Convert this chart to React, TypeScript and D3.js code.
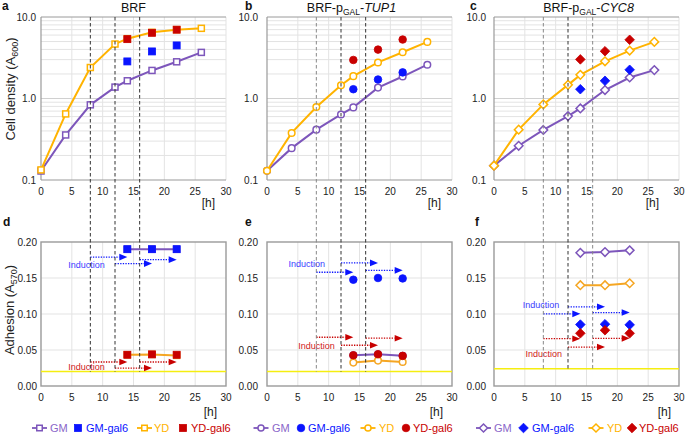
import React from 'react';
import * as d3 from 'd3';

// ---------- data ----------
const hours = [0, 4, 8, 12, 14, 18, 22, 26];
const galHours = [14, 18, 22];
const inductionStarts = [8, 12, 16];
const inductionLength = 6;
const xTicks = [0, 5, 10, 15, 20, 25, 30];
const densityTicks = [0.1, 1, 10];
const densityTickLabels = ['0.1', '1.0', '10.0'];
const adhesionTicks = [0, 0.05, 0.1, 0.15, 0.2];
const adhesionTickLabels = ['0.00', '0.05', '0.10', '0.15', '0.20'];

// growth (A600)
const aGM = [0.129, 0.357, 0.836, 1.38, 1.65, 2.21, 2.82, 3.68];
const aYD = [0.133, 0.647, 2.4, 4.66, 5.42, 6.48, 6.99, 7.26];
const aGMgal6 = [2.85, 3.78, 4.48];
const aYDgal6 = [5.35, 6.4, 6.99];

const bGM = [0.13, 0.246, 0.415, 0.637, 0.778, 1.36, 1.86, 2.6];
const bYD = [0.13, 0.378, 0.785, 1.455, 1.88, 2.77, 3.69, 4.95];
const bGMgal6 = [1.3, 1.71, 2.09];
const bYDgal6 = [2.97, 3.98, 5.29];

const cGM = [0.15, 0.263, 0.411, 0.608, 0.756, 1.27, 1.81, 2.23];
const cYD = [0.15, 0.415, 0.847, 1.47, 1.95, 2.86, 3.87, 4.95];
const cGMgal6 = [1.3, 1.65, 2.25];
const cYDgal6 = [3.02, 3.8, 5.25];

// adhesion (A570)
const dGM = [0.19, 0.19, 0.19];
const dYD = [0.0434, 0.0439, 0.0425];
const dGMgal6 = [0.19, 0.19, 0.19];
const dYDgal6 = [0.0434, 0.0439, 0.0434];

const eGM = [0.0427, 0.0441, 0.042];
const eYD = [0.0325, 0.0353, 0.0334];
const eGMgal6 = [0.1476, 0.15, 0.1494];
const eYDgal6 = [0.0427, 0.0441, 0.0418];

const fGM = [0.185, 0.186, 0.1884];
const fYD = [0.14, 0.14, 0.1427];
const fGMgal6 = [0.0853, 0.0858, 0.0849];
const fYDgal6 = [0.0732, 0.0774, 0.0732];

// induction arrows (y levels) and label anchors [x, y]
const dBlueArrows = [0.179, 0.17, 0.1755];
const dRedArrows = [0.0333, 0.0249, 0.0333];
const eBlueArrows = [0.158, 0.171, 0.1606];
const eRedArrows = [0.0677, 0.0566, 0.0664];
const fBlueArrows = [0.1002, 0.11, 0.102];
const fRedArrows = [0.0657, 0.0541, 0.0662];
const dLabels = [[4.4, 0.168], [4.4, 0.0266]];
const eLabels = [[3.5, 0.169], [5.05, 0.056]];
const fLabels = [[4.65, 0.113], [5.1, 0.0443]];
const baselines = [0.02, 0.02, 0.024];

const seriesNames = ['GM', 'GM-gal6', 'YD', 'YD-gal6'];

// ---------- style ----------
const FONT = 'Liberation Sans, Arial, sans-serif';
const PURPLE = '#7d56bb';
const ORANGE = '#ffb300';
const BLUE = '#0a14ff';
const RED = '#c80000';
const GRID = '#e3e3e3';
const FRAME = '#9a9a9a';
const PLOT_W = 185;
const LEFTS = [41, 267, 494];
const TOP_Y = [17, 180];
const BOT_Y = [242, 386];

type Shape = 'square' | 'circle' | 'diamond';

function Marker({ shape, x, y, color, hollow, size = 7 }: { shape: Shape; x: number; y: number; color: string; hollow: boolean; size?: number }) {
  const fill = hollow ? '#fff' : color;
  const sw = hollow ? 1.5 : 0.8;
  const s = hollow ? size - 1 : size;
  if (shape === 'square') {
    return <rect x={x - s / 2} y={y - s / 2} width={s} height={s} fill={fill} stroke={color} strokeWidth={sw} />;
  }
  if (shape === 'circle') {
    return <circle cx={x} cy={y} r={s / 2 + 0.3} fill={fill} stroke={color} strokeWidth={sw} />;
  }
  const r = s / 2 + 1.3;
  return <path d={`M${x},${y - r}L${x + r},${y}L${x},${y + r}L${x - r},${y}Z`} fill={fill} stroke={color} strokeWidth={sw} />;
}

function Series({ xs, ys, x, y, color, shape, hollow, line }: any) {
  const gen = d3.line<number>().x((_, i) => x(xs[i])).y((v) => y(v));
  return (
    <g>
      {line && <path d={gen(ys) || ''} fill="none" stroke={color} strokeWidth={2} />}
      {ys.map((v: number, i: number) => (
        <Marker key={i} shape={shape} x={x(xs[i])} y={y(v)} color={color} hollow={hollow} />
      ))}
    </g>
  );
}

function Title({ idx, cx }: { idx: number; cx: number }) {
  const common = { x: cx, y: 11.5, textAnchor: 'middle' as const, fontSize: 12.5, fontFamily: FONT, fill: '#111' };
  if (idx === 0) return <text {...common}>BRF</text>;
  const gene = idx === 1 ? 'TUP1' : 'CYC8';
  return (
    <text {...common}>
      BRF-p<tspan fontSize={8.5} dy={3}>GAL</tspan>
      <tspan dy={-3}>-</tspan>
      <tspan fontStyle="italic">{gene}</tspan>
    </text>
  );
}

function GrowthPanel({ idx, gm, yd, gmg, ydg, shape }: any) {
  const left = LEFTS[idx];
  const x = d3.scaleLinear().domain([0, 30]).range([left, left + PLOT_W]);
  const y = d3.scaleLog().domain([0.1, 10]).range([TOP_Y[1], TOP_Y[0]]);
  const minor: number[] = [];
  [0.1, 1].forEach((d) => { for (let k = 2; k <= 9; k++) minor.push(d * k); });
  const labelOff = [5, 9, 8][idx];
  const hOff = [11, 11, 20][idx];
  const titleShift = [0, -8, 2][idx];
  return (
    <g>
      {minor.map((v, i) => (
        <line key={'m' + i} x1={x(0)} x2={x(30)} y1={y(v)} y2={y(v)} stroke={GRID} strokeWidth={1} />
      ))}
      <line x1={x(0)} x2={x(30)} y1={y(1)} y2={y(1)} stroke="#d0d0d0" strokeWidth={1} />
      {xTicks.slice(1).map((t) => (
        <line key={'v' + t} x1={x(t)} x2={x(t)} y1={y(10)} y2={y(0.1)} stroke={GRID} strokeWidth={1} />
      ))}
      <line x1={x(0)} x2={x(30)} y1={y(10)} y2={y(10)} stroke={FRAME} strokeWidth={1} />
      <line x1={x(0)} x2={x(0)} y1={y(10)} y2={y(0.1)} stroke={FRAME} strokeWidth={1.2} />
      <line x1={x(0)} x2={x(30)} y1={y(0.1)} y2={y(0.1)} stroke={FRAME} strokeWidth={1.2} />
      {densityTicks.map((t, i) => (
        <text key={'yt' + t} x={x(0) - labelOff} y={y(t)} dy="0.35em" textAnchor="end" fontSize={10} fontFamily={FONT} fill="#222">
          {densityTickLabels[i]}
        </text>
      ))}
      {xTicks.map((t) => (
        <text key={'xt' + t} x={x(t)} y={195} textAnchor="middle" fontSize={10} fontFamily={FONT} fill="#222">
          {t}
        </text>
      ))}
      <text x={x(30) - hOff} y={207} textAnchor="end" fontSize={12} fontFamily={FONT} fill="#222">[h]</text>
      <Series xs={hours} ys={gm} x={x} y={y} color={PURPLE} shape={shape} hollow line />
      <Series xs={hours} ys={yd} x={x} y={y} color={ORANGE} shape={shape} hollow line />
      <Series xs={galHours} ys={gmg} x={x} y={y} color={BLUE} shape={shape} hollow={false} line={false} />
      <Series xs={galHours} ys={ydg} x={x} y={y} color={RED} shape={shape} hollow={false} line={false} />
      <Title idx={idx} cx={x(15) + titleShift} />
    </g>
  );
}

function Arrow({ x1, x2, y, color }: { x1: number; x2: number; y: number; color: string }) {
  const hl = 8;
  return (
    <g>
      <line x1={x1} x2={x2 - hl} y1={y} y2={y} stroke={color} strokeWidth={1.3} strokeDasharray="1.3,1.3" />
      <path d={`M${x2},${y}L${x2 - hl},${y - 3.3}L${x2 - hl},${y + 3.3}Z`} fill={color} />
    </g>
  );
}

function AdhesionPanel({ idx, gm, yd, gmg, ydg, shape, blueArrows, redArrows, labels }: any) {
  const left = LEFTS[idx];
  const x = d3.scaleLinear().domain([0, 30]).range([left, left + PLOT_W]);
  const y = d3.scaleLinear().domain([0, 0.2]).range([BOT_Y[1], BOT_Y[0]]);
  const labelOff = [4, 9, 8][idx];
  const hOff = [9, 9, 8][idx];
  return (
    <g>
      {adhesionTicks.slice(1, 4).map((t) => (
        <line key={'h' + t} x1={x(0)} x2={x(30)} y1={y(t)} y2={y(t)} stroke={GRID} strokeWidth={1} />
      ))}
      {xTicks.slice(1, 6).map((t) => (
        <line key={'v' + t} x1={x(t)} x2={x(t)} y1={y(0)} y2={y(0.2)} stroke={GRID} strokeWidth={1} />
      ))}
      <rect x={x(0)} y={y(0.2)} width={PLOT_W} height={y(0) - y(0.2)} fill="none" stroke={FRAME} strokeWidth={1.4} />
      {adhesionTicks.map((t, i) => (
        <text key={'yt' + t} x={x(0) - labelOff} y={y(t)} dy="0.35em" textAnchor="end" fontSize={10} fontFamily={FONT} fill="#222">
          {adhesionTickLabels[i]}
        </text>
      ))}
      {xTicks.map((t) => (
        <text key={'xt' + t} x={x(t)} y={401} textAnchor="middle" fontSize={10} fontFamily={FONT} fill="#222">
          {t}
        </text>
      ))}
      <text x={x(30) - hOff} y={416} textAnchor="end" fontSize={12} fontFamily={FONT} fill="#222">[h]</text>
      <line x1={x(0)} x2={x(30)} y1={y(baselines[idx])} y2={y(baselines[idx])} stroke="#f5ee10" strokeWidth={1.5} />
      {inductionStarts.map((s, i) => (
        <Arrow key={'b' + i} x1={x(s)} x2={x(s + inductionLength)} y={y(blueArrows[i])} color={BLUE} />
      ))}
      {inductionStarts.map((s, i) => (
        <Arrow key={'r' + i} x1={x(s)} x2={x(s + inductionLength)} y={y(redArrows[i])} color={RED} />
      ))}
      <text x={x(labels[0][0])} y={y(labels[0][1])} dy="0.35em" fontSize={9} fontFamily={FONT} fill="#3b3bff">Induction</text>
      <text x={x(labels[1][0])} y={y(labels[1][1])} dy="0.35em" fontSize={9} fontFamily={FONT} fill="#d02020">Induction</text>
      <Series xs={galHours} ys={gm} x={x} y={y} color={PURPLE} shape={shape} hollow line />
      <Series xs={galHours} ys={yd} x={x} y={y} color="#f5a623" shape={shape} hollow line />
      <Series xs={galHours} ys={gmg} x={x} y={y} color={BLUE} shape={shape} hollow={false} line={false} />
      <Series xs={galHours} ys={ydg} x={x} y={y} color={RED} shape={shape} hollow={false} line={false} />
    </g>
  );
}

const dashColors = [
  ['#333', '#333', '#333'],
  ['#888', '#333', '#333'],
  ['#888', '#333', '#888'],
];

function DashedGuides({ idx }: { idx: number }) {
  const left = LEFTS[idx];
  const x = d3.scaleLinear().domain([0, 30]).range([left, left + PLOT_W]);
  const yb = d3.scaleLinear().domain([0, 0.2]).range([BOT_Y[1], BOT_Y[0]]);
  return (
    <g>
      {inductionStarts.map((s, i) => (
        <line key={i} x1={x(s)} x2={x(s)} y1={TOP_Y[0]} y2={yb(baselines[idx])} stroke={dashColors[idx][i]} strokeWidth={1} strokeDasharray="3.5,2.5" />
      ))}
    </g>
  );
}

function LegendGroup({ x0, shape, positions }: { x0: number; shape: Shape; positions: number[] }) {
  const y = 428;
  const colors = [PURPLE, BLUE, ORANGE, RED];
  const textColors = ['#8a66c9', BLUE, '#ffb300', RED];
  return (
    <g>
      {seriesNames.map((name, i) => {
        const hollow = i % 2 === 0;
        const mx = x0 + positions[i * 2];
        const tx = x0 + positions[i * 2 + 1];
        return (
          <g key={name}>
            {hollow && <line x1={mx - 7.5} x2={mx + 7.5} y1={y} y2={y} stroke={colors[i]} strokeWidth={1.8} />}
            <Marker shape={shape} x={mx} y={y} color={colors[i]} hollow={hollow} size={hollow ? 6.5 : 7} />
            <text x={tx} y={y} dy="0.36em" fontSize={11} fontFamily={FONT} fill={textColors[i]}>{name}</text>
          </g>
        );
      })}
    </g>
  );
}

export default function App() {
  const legendA = [0, 10.5, 38.5, 46.5, 105, 114.5, 143.5, 151.5];
  const legendB = [0, 11, 40, 47, 107, 118, 145, 152];
  const legendC = [0, 10.5, 40, 48.5, 112.5, 123.5, 148.5, 155.5];
  return (
    <svg width={685} height={435} style={{ position: 'absolute', left: 0, top: 0, background: '#fff' }}>
      <rect width={685} height={435} fill="#fff" />
      <GrowthPanel idx={0} gm={aGM} yd={aYD} gmg={aGMgal6} ydg={aYDgal6} shape="square" />
      <GrowthPanel idx={1} gm={bGM} yd={bYD} gmg={bGMgal6} ydg={bYDgal6} shape="circle" />
      <GrowthPanel idx={2} gm={cGM} yd={cYD} gmg={cGMgal6} ydg={cYDgal6} shape="diamond" />
      <AdhesionPanel idx={0} gm={dGM} yd={dYD} gmg={dGMgal6} ydg={dYDgal6} shape="square" blueArrows={dBlueArrows} redArrows={dRedArrows} labels={dLabels} />
      <AdhesionPanel idx={1} gm={eGM} yd={eYD} gmg={eGMgal6} ydg={eYDgal6} shape="circle" blueArrows={eBlueArrows} redArrows={eRedArrows} labels={eLabels} />
      <AdhesionPanel idx={2} gm={fGM} yd={fYD} gmg={fGMgal6} ydg={fYDgal6} shape="diamond" blueArrows={fBlueArrows} redArrows={fRedArrows} labels={fLabels} />
      {[0, 1, 2].map((i) => <DashedGuides key={i} idx={i} />)}
      {[['a', 2, 10], ['b', 245, 10], ['c', 470, 10], ['d', 3, 226], ['e', 245, 226], ['f', 475, 226]].map(([l, lx, ly]) => (
        <text key={l as string} x={lx as number} y={ly as number} fontSize={12} fontWeight="bold" fontFamily={FONT} fill="#111">{l}</text>
      ))}
      <text transform="translate(15,89) rotate(-90)" textAnchor="middle" fontSize={13} fontFamily={FONT} fill="#222">
        Cell density (A<tspan fontSize={9} dy={3}>600</tspan><tspan dy={-3}>)</tspan>
      </text>
      <text transform="translate(14,310) rotate(-90)" textAnchor="middle" fontSize={13} fontFamily={FONT} fill="#222">
        Adhesion (A<tspan fontSize={9} dy={3}>570</tspan><tspan dy={-3}>)</tspan>
      </text>
      <LegendGroup x0={39.5} shape="square" positions={legendA} />
      <LegendGroup x0={261} shape="circle" positions={legendB} />
      <LegendGroup x0={483.5} shape="diamond" positions={legendC} />
    </svg>
  );
}
